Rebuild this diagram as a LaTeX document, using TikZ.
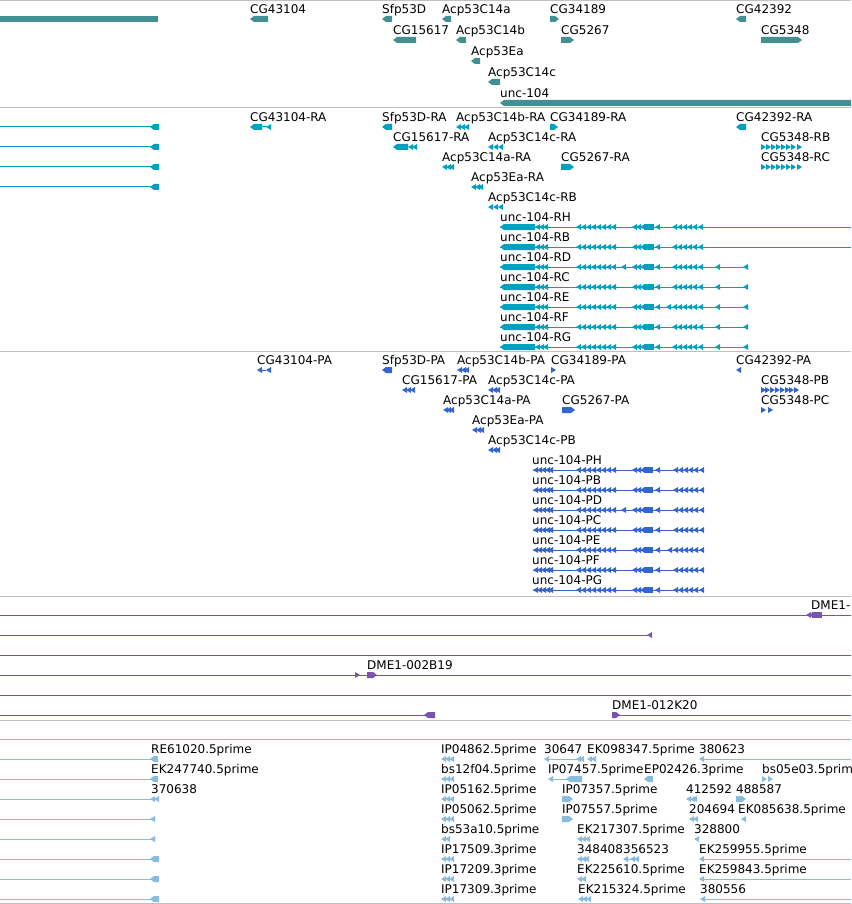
\documentclass[tikz,border=0pt]{standalone}
\usepackage{fontspec}
\setmainfont{DejaVu Sans}
\definecolor{genecol}{RGB}{64,144,148}
\definecolor{rnacol}{RGB}{0,160,192}
\definecolor{protcol}{RGB}{51,102,204}
\definecolor{bacol}{RGB}{119,85,170}
\definecolor{estcol}{RGB}{136,187,221}
\definecolor{sepcol}{RGB}{192,192,192}
% block pointing left / right: {colour}{x1}{x2}{y}
\newcommand{\featL}[4]{\fill[#1] (#2,#4) -- (#2+4,#4-3) -- (#3,#4-3) -- (#3,#4+3) -- (#2+4,#4+3) -- cycle;}
\newcommand{\featR}[4]{\fill[#1] (#3,#4) -- (#3-4,#4-3) -- (#2,#4-3) -- (#2,#4+3) -- (#3-4,#4+3) -- cycle;}
% small exon arrows: {colour}{list of x}{y}
\newcommand{\arrL}[3]{\foreach \px in {#2} {\fill[#1] (\px,#3) -- (\px+5,#3-3) -- (\px+5,#3+3) -- cycle;}}
\newcommand{\arrR}[3]{\foreach \px in {#2} {\fill[#1] (\px+5,#3) -- (\px,#3-3) -- (\px,#3+3) -- cycle;}}
% label above a glyph row: {name}{x}{glyph y}{text}
\newcommand{\lab}[4]{\node[lbl] (#1) at (#2,#3-5.5) {#4};}
% unc-104 transcript / protein: {y}{end of line}
\newcommand{\uncRNA}[2]{%
  \draw[rnacol,line width=1pt] (500,#1) -- (#2,#1);
  \featL{rnacol}{500}{535}{#1}
  \arrL{rnacol}{535,539,543}{#1}
  \arrL{rnacol}{576,581,586,591,596,601,606,611}{#1}
  \arrL{rnacol}{632,636,640}{#1}
  \fill[rnacol] (644,#1-3) rectangle (654,#1+3);
  \arrL{rnacol}{655}{#1}
  \arrL{rnacol}{672,677,682,687,692,698}{#1}}
\newcommand{\uncProt}[1]{%
  \draw[protcol,line width=1pt] (533,#1) -- (704,#1);
  \arrL{protcol}{533,537,541,545,548}{#1}
  \arrL{protcol}{576,581,586,591,596,601,606,611}{#1}
  \arrL{protcol}{632,636,640}{#1}
  \fill[protcol] (644,#1-3) rectangle (653,#1+3);
  \arrL{protcol}{655}{#1}
  \arrL{protcol}{673,678,683,688,693,699}{#1}}
\tikzset{
  lbl/.style={anchor=base west, inner sep=0pt, font=\fontsize{12}{14}\selectfont},
  sep/.style={sepcol, line width=1pt},
  thin/.style={line width=1pt}
}
\begin{document}
\begin{tikzpicture}[x=1pt,y=-1pt]
\useasboundingbox (0,0) rectangle (851,904);
\clip (0,0) rectangle (851,904);
\fill[white] (0,0) rectangle (851,904);
% Separadores
\foreach \sy in {1,108,351,596,720,903}
  {\draw[sep] (0,\sy) -- (851,\sy);}
% Genes
\fill[genecol] (0,16) rectangle (158,22);
\featL{genecol}{250}{268}{19} \lab{g1}{250}{19}{CG43104}
\featL{genecol}{382}{392}{19} \lab{g2}{382}{19}{Sfp53D}
\featL{genecol}{442}{451}{19} \lab{g3}{442}{19}{Acp53C14a}
\featR{genecol}{550}{559}{19} \lab{g4}{550}{19}{CG34189}
\featL{genecol}{736}{746}{19} \lab{g5}{736}{19}{CG42392}
\featL{genecol}{393}{416}{40} \lab{g6}{393}{40}{CG15617}
\featL{genecol}{456}{466}{40} \lab{g7}{456}{40}{Acp53C14b}
\featR{genecol}{561}{574}{40} \lab{g8}{561}{40}{CG5267}
\featR{genecol}{761}{802}{40} \lab{g9}{761}{40}{CG5348}
\featL{genecol}{471}{480}{61} \lab{g10}{471}{61}{Acp53Ea}
\featL{genecol}{488}{500}{82} \lab{g11}{488}{82}{Acp53C14c}
\featL{genecol}{500}{860}{103} \lab{g12}{500}{103}{unc-104}
% Transcritos
\foreach \ry in {127,147,167,187} {
  \draw[rnacol,thin] (0,\ry) -- (152,\ry);
  \featL{rnacol}{150}{159}{\ry}
}
\featL{rnacol}{250}{262}{127} \draw[rnacol,thin] (262,127) -- (267,127);
\arrL{rnacol}{266}{127} \lab{r1}{250}{127}{CG43104-RA}
\featL{rnacol}{382}{392}{127} \lab{r2}{382}{127}{Sfp53D-RA}
\arrL{rnacol}{456,460,464}{127} \lab{r3}{456}{127}{Acp53C14b-RA}
\featR{rnacol}{550}{558}{127} \lab{r4}{550}{127}{CG34189-RA}
\featL{rnacol}{736}{746}{127} \lab{r5}{736}{127}{CG42392-RA}
\featL{rnacol}{393}{408}{147} \arrL{rnacol}{408,412}{147} \lab{r6}{393}{147}{CG15617-RA}
\arrL{rnacol}{488,493,498}{147} \lab{r7}{488}{147}{Acp53C14c-RA}
\arrR{rnacol}{761,766,771,776,781,786,791,797}{147} \lab{r8}{761}{147}{CG5348-RB}
\arrL{rnacol}{442,446,449}{167} \lab{r9}{442}{167}{Acp53C14a-RA}
\featR{rnacol}{561}{574}{167} \lab{r10}{561}{167}{CG5267-RA}
\arrR{rnacol}{761,766,771,776,781,786,791,797}{167} \lab{r11}{761}{167}{CG5348-RC}
\arrL{rnacol}{471,475,478}{187} \lab{r12}{471}{187}{Acp53Ea-RA}
\arrL{rnacol}{488,493,498}{207} \lab{r13}{488}{207}{Acp53C14c-RB}
\uncRNA{227}{851} \lab{r14}{500}{227}{unc-104-RH}
\uncRNA{247}{851} \lab{r15}{500}{247}{unc-104-RB}
\uncRNA{267}{748} \arrL{rnacol}{621,715,743}{267} \lab{r16}{500}{267}{unc-104-RD}
\uncRNA{287}{748} \arrL{rnacol}{715,743}{287} \lab{r17}{500}{287}{unc-104-RC}
\uncRNA{307}{748} \arrL{rnacol}{666,715,743}{307} \lab{r18}{500}{307}{unc-104-RE}
\uncRNA{327}{748} \arrL{rnacol}{715,743}{327} \lab{r19}{500}{327}{unc-104-RF}
\uncRNA{347}{748} \arrL{rnacol}{715,743}{347} \lab{r20}{500}{347}{unc-104-RG}
% Proteinas
\arrL{protcol}{257}{370} \draw[protcol,thin] (260,370) -- (266,370);
\arrL{protcol}{266}{370} \lab{p1}{257}{370}{CG43104-PA}
\featL{protcol}{382}{392}{370} \lab{p2}{382}{370}{Sfp53D-PA}
\arrL{protcol}{457,461,464}{370} \lab{p3}{457}{370}{Acp53C14b-PA}
\arrR{protcol}{551}{370} \lab{p4}{551}{370}{CG34189-PA}
\arrL{protcol}{736}{370} \lab{p5}{736}{370}{CG42392-PA}
\arrL{protcol}{402,406,410}{390} \lab{p6}{402}{390}{CG15617-PA}
\arrL{protcol}{488,492,495}{390} \lab{p7}{488}{390}{Acp53C14c-PA}
\arrR{protcol}{761,765,770,775,780,785,789,794}{390} \lab{p8}{761}{390}{CG5348-PB}
\arrL{protcol}{443,446,449}{410} \lab{p9}{443}{410}{Acp53C14a-PA}
\featR{protcol}{562}{575}{410} \lab{p10}{562}{410}{CG5267-PA}
\arrR{protcol}{761,768}{410} \lab{p11}{761}{410}{CG5348-PC}
\arrL{protcol}{472,476,479}{430} \lab{p12}{472}{430}{Acp53Ea-PA}
\arrL{protcol}{488,492,495}{450} \lab{p13}{488}{450}{Acp53C14c-PB}
\uncProt{470} \lab{p14}{532}{470}{unc-104-PH}
\uncProt{490} \lab{p15}{532}{490}{unc-104-PB}
\uncProt{510} \arrL{protcol}{621}{510} \lab{p16}{532}{510}{unc-104-PD}
\uncProt{530} \lab{p17}{532}{530}{unc-104-PC}
\uncProt{550} \arrL{protcol}{667}{550} \lab{p18}{532}{550}{unc-104-PE}
\uncProt{570} \lab{p19}{532}{570}{unc-104-PF}
\uncProt{590} \lab{p20}{532}{590}{unc-104-PG}
% BAC
\draw[bacol,thin] (0,615) -- (851,615);
\arrL{bacol}{806,809}{615} \fill[bacol] (812,612) rectangle (822,618);
\lab{b1}{811}{615}{DME1-}
\draw[bacol,thin] (0,635) -- (650,635);
\arrL{bacol}{647}{635}
\draw[bacol,thin] (0,655) -- (851,655);
\draw[bacol,thin] (0,675) -- (851,675);
\arrR{bacol}{355}{675} \featR{bacol}{367}{377}{675}
\lab{b2}{367}{675}{DME1-002B19}
\draw[bacol,thin] (0,695) -- (851,695);
\draw[bacol,thin] (0,715) -- (430,715);
\featL{bacol}{424}{435}{715}
\draw[bacol,thin] (612,715) -- (851,715);
\featR{bacol}{612}{620}{715}
\lab{b3}{612}{715}{DME1-012K20}
% EST
\draw[estcol,thin] (0,739) -- (851,739);
\foreach \ey in {759,779,...,899}
  {\draw[estcol,thin] (0,\ey) -- (152,\ey);}
\featL{estcol}{150}{158}{759} \lab{e1}{151}{759}{RE61020.5prime}
\featL{estcol}{150}{158}{779} \lab{e2}{151}{779}{EK247740.5prime}
\arrL{estcol}{150,154}{799} \lab{e3}{151}{799}{370638}
\arrL{estcol}{150}{819}
\arrL{estcol}{150}{839}
\featL{estcol}{150}{159}{859}
\featL{estcol}{150}{159}{879}
\featL{estcol}{150}{159}{899}
\foreach \ey in {759,779,799,819,859,879,899}
  {\arrL{estcol}{441,445,449}{\ey}}
\arrL{estcol}{441,445}{839}
\lab{e4}{441}{759}{IP04862.5prime}
\lab{e5}{441}{779}{bs12f04.5prime}
\lab{e6}{441}{799}{IP05162.5prime}
\lab{e7}{441}{819}{IP05062.5prime}
\lab{e8}{441}{839}{bs53a10.5prime}
\lab{e9}{441}{859}{IP17509.3prime}
\lab{e10}{441}{879}{IP17209.3prime}
\lab{e11}{441}{899}{IP17309.3prime}
\arrL{estcol}{544}{759} \draw[estcol,thin] (547,759) -- (578,759);
\arrL{estcol}{576,579}{759} \lab{e12}{544}{759}{30647}
\arrL{estcol}{587,591}{759} \lab{e13}{587}{759}{EK098347.5prime}
\arrL{estcol}{699}{759} \draw[estcol,thin] (702,759) -- (851,759);
\lab{e14}{699}{759}{380623}
\arrL{estcol}{548}{779} \draw[estcol,thin] (551,779) -- (568,779);
\featL{estcol}{566}{582}{779} \lab{e15}{548}{779}{IP07457.5prime}
\featL{estcol}{644}{653}{779} \lab{e16}{644}{779}{EP02426.3prime}
\arrR{estcol}{762,768}{779} \lab{e17}{762}{779}{bs05e03.5prime}
\featR{estcol}{562}{573}{799} \lab{e18}{562}{799}{IP07357.5prime}
\arrL{estcol}{686,690,692}{799} \lab{e19}{686}{799}{412592}
\featR{estcol}{736}{746}{799} \lab{e20}{736}{799}{488587}
\featR{estcol}{562}{573}{819} \lab{e21}{562}{819}{IP07557.5prime}
\arrL{estcol}{689,693}{819} \lab{e22}{689}{819}{204694}
\arrL{estcol}{741}{819} \lab{e23}{738}{819}{EK085638.5prime}
\arrL{estcol}{577,581,585}{839} \lab{e24}{577}{839}{EK217307.5prime}
\arrL{estcol}{694}{839} \lab{e25}{694}{839}{328800}
\arrL{estcol}{577,581,584}{859} \lab{e26}{577}{859}{348408}
\arrL{estcol}{623}{859} \draw[estcol,thin] (626,859) -- (632,859);
\arrL{estcol}{630,634}{859} \lab{e27}{623}{859}{356523}
\arrL{estcol}{699}{859} \draw[estcol,thin] (702,859) -- (851,859);
\lab{e28}{699}{859}{EK259955.5prime}
\arrL{estcol}{577,581}{879} \lab{e29}{577}{879}{EK225610.5prime}
\arrL{estcol}{699}{879} \draw[estcol,thin] (702,879) -- (851,879);
\lab{e30}{699}{879}{EK259843.5prime}
\arrL{estcol}{578,582,586}{899} \lab{e31}{578}{899}{EK215324.5prime}
\arrL{estcol}{700}{899} \draw[estcol,thin] (703,899) -- (851,899);
\lab{e32}{700}{899}{380556}
\end{tikzpicture}
\end{document}
